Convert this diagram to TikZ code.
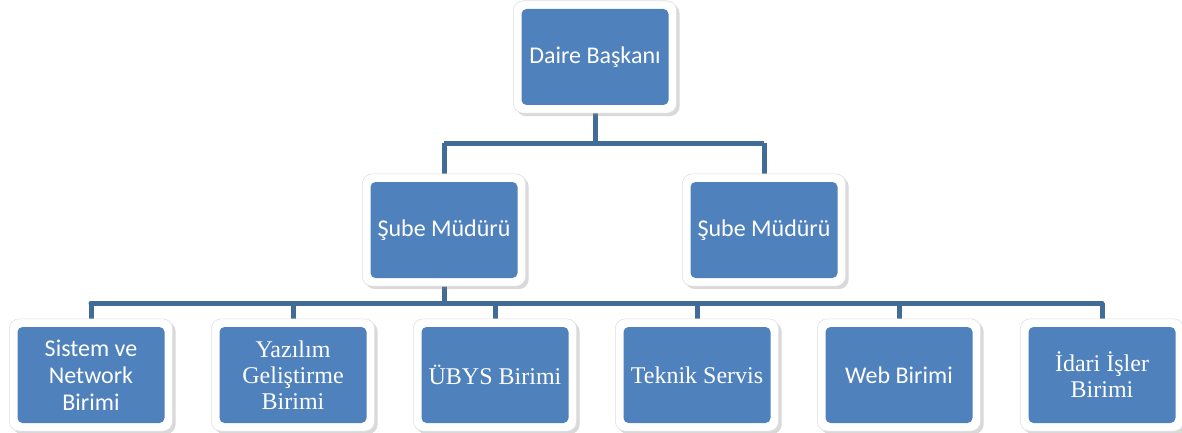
\documentclass[tikz,border=0pt]{standalone}
\usepackage{fontspec}
\setmainfont{Carlito}
\newfontfamily\tnr{Liberation Serif}
\usetikzlibrary{shadows,backgrounds}
\pgfdeclarelayer{back}
\pgfsetlayers{back,background,main}
\definecolor{boxblue}{RGB}{79,129,189}
\definecolor{linkblue}{RGB}{65,108,152}
\begin{document}
\begin{tikzpicture}[x=1pt,y=-1pt,
  unit/.style={rectangle, rounded corners=5pt, fill=boxblue, draw=none,
    minimum width=147pt, minimum height=96pt, text=white, align=center,
    font=\fontsize{24}{27}\selectfont},
  serifunit/.style={unit, font=\tnr\fontsize{24}{26}\selectfont},
  frame/.style={fill=white, draw=gray!25, line width=0.6pt, rounded corners=10pt,
    drop shadow={shadow xshift=3pt, shadow yshift=-3pt, opacity=0.3, fill=gray}},
  link/.style={draw=linkblue, line width=5pt}]
\useasboundingbox (0,0) rectangle (1182,433);
\node[unit] (top) at (595,57) {Daire Başkanı};
\node[unit] (s1) at (444,230) {Şube Müdürü};
\node[unit] (s2) at (764,230) {Şube Müdürü};
\node[unit] (b1) at (91,375) {Sistem ve\\Network\\Birimi};
\node[serifunit] (b2) at (293,375) {Yazılım\\Geliştirme\\Birimi};
\node[serifunit] (b3) at (495,375) {ÜBYS Birimi};
\node[serifunit] (b4) at (697,375) {Teknik Servis};
\node[unit] (b5) at (899,375) {Web Birimi};
\node[serifunit] (b6) at (1102,375) {İdari İşler\\Birimi};
\coordinate (h1) at (595,143);
\coordinate (h2) at (444,303);
\begin{pgfonlayer}{background}
\foreach \b in {top,s1,s2,b1,b2,b3,b4,b5,b6}{
  \path[frame] ([shift={(-8,-8)}]\b.north west) rectangle ([shift={(8,8)}]\b.south east);
}
\end{pgfonlayer}
\begin{pgfonlayer}{back}
\draw[link] (top.south) -- (top.south |- h1);
\draw[link] (s1.north |- h1) -- (s2.north |- h1);
\draw[link] (s1.north |- h1) -- (s1.north);
\draw[link] (s2.north |- h1) -- (s2.north);
\draw[link] (s1.south) -- (s1.south |- h2);
\draw[link, line cap=round] (b1.north |- h2) -- (b6.north |- h2);
\foreach \b in {b1,b2,b3,b4,b5,b6}{
  \draw[link] (\b.north |- h2) -- (\b.north);
}
\end{pgfonlayer}
\end{tikzpicture}
\end{document}
